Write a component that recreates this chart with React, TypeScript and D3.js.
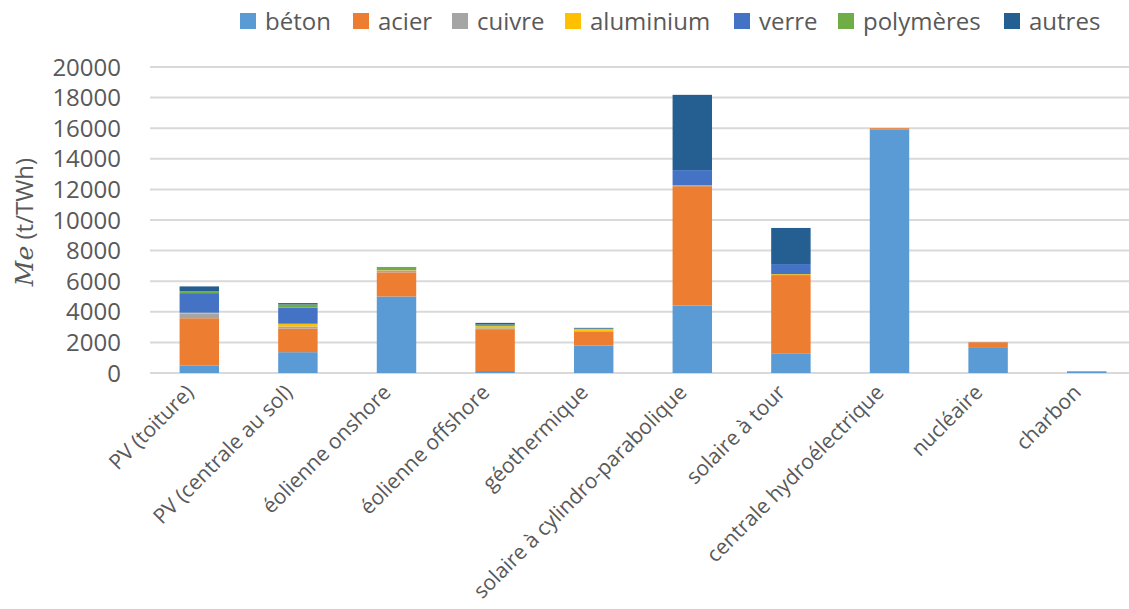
import * as d3 from "d3";
import { useEffect, useRef } from "react";

const categories = [
  "PV (toiture)",
  "PV (centrale au sol)",
  "éolienne onshore",
  "éolienne offshore",
  "géothermique",
  "solaire à cylindro-parabolique",
  "solaire à tour",
  "centrale hydroélectrique",
  "nucléaire",
  "charbon",
];

const materials = ["béton", "acier", "cuivre", "aluminium", "verre", "polymères", "autres"];

const beton = [480, 1360, 5000, 130, 1790, 4410, 1290, 15900, 1690, 100];
const acier = [3100, 1550, 1580, 2735, 920, 7800, 5110, 100, 320, 30];
const cuivre = [320, 130, 130, 60, 40, 30, 0, 0, 20, 0];
const aluminium = [40, 180, 20, 130, 110, 20, 60, 0, 0, 0];
const verre = [1280, 1060, 0, 0, 0, 1000, 660, 0, 0, 0];
const polymeres = [130, 200, 170, 110, 40, 0, 0, 0, 0, 0];
const autres = [310, 90, 30, 110, 50, 4920, 2360, 0, 0, 0];

const yTicks = [0, 2000, 4000, 6000, 8000, 10000, 12000, 14000, 16000, 18000, 20000];

const COLORS = ["#5B9BD5", "#ED7D31", "#A5A5A5", "#FFC000", "#4472C4", "#70AD47", "#255E91"];
// legend item x positions (layout only)
const LEGEND_X = [240, 353, 452, 565, 734, 838, 1004];

const TEXT_COLOR = "#595959";
const FONT = "'Open Sans', sans-serif";

const App = () => {
  const svgRef = useRef(null);

  useEffect(() => {
    const width = 1129;
    const height = 609;
    const svg = d3.select(svgRef.current).attr("width", width).attr("height", height);
    svg.selectAll("*").remove();

    const x = d3
      .scaleBand()
      .domain(categories)
      .range([150, 1136])
      .paddingInner(0.6)
      .paddingOuter(0.3);
    const y = d3.scaleLinear().domain([0, 20000]).range([373, 67]);

    // gridlines
    svg
      .append("g")
      .selectAll("line")
      .data(yTicks)
      .join("line")
      .attr("x1", 150)
      .attr("x2", 1129)
      .attr("y1", (d) => y(d))
      .attr("y2", (d) => y(d))
      .attr("stroke", "#D9D9D9")
      .attr("stroke-width", 2);

    // tick labels
    svg
      .append("g")
      .selectAll("text")
      .data(yTicks)
      .join("text")
      .attr("x", 121)
      .attr("y", (d) => y(d))
      .attr("dy", "0.36em")
      .attr("text-anchor", "end")
      .attr("font-family", FONT)
      .attr("font-size", 24)
      .attr("fill", TEXT_COLOR)
      .text((d) => String(d));

    // stacked bars
    const rows = categories.map((c, i) => ({
      cat: c,
      "béton": beton[i],
      acier: acier[i],
      cuivre: cuivre[i],
      aluminium: aluminium[i],
      verre: verre[i],
      "polymères": polymeres[i],
      autres: autres[i],
    }));
    const series = d3.stack<any>().keys(materials)(rows);

    svg
      .append("g")
      .selectAll("g")
      .data(series)
      .join("g")
      .attr("fill", (d, i) => COLORS[i])
      .selectAll("rect")
      .data((d) => d.filter((p) => p[1] - p[0] > 0))
      .join("rect")
      .attr("x", (d: any) => x(d.data.cat)!)
      .attr("width", x.bandwidth())
      .attr("y", (d) => y(d[1]))
      .attr("height", (d) => y(d[0]) - y(d[1]));

    // x labels
    svg
      .append("g")
      .selectAll("text")
      .data(categories)
      .join("text")
      .attr(
        "transform",
        (d) => `translate(${x(d)! + x.bandwidth() / 2 - 15},383) rotate(-45)`
      )
      .attr("dy", "0.72em")
      .attr("text-anchor", "end")
      .attr("font-family", FONT)
      .attr("font-size", 21)
      .attr("fill", TEXT_COLOR)
      .text((d) => d);

    // y axis title
    const title = svg
      .append("text")
      .attr("transform", "translate(33,222) rotate(-90)")
      .attr("text-anchor", "middle")
      .attr("fill", TEXT_COLOR)
      .attr("font-size", 24)
      .attr("font-family", FONT);
    title
      .append("tspan")
      .attr("font-family", "'DejaVu Serif', serif")
      .attr("font-style", "italic")
      .attr("font-size", 25)
      .text("Me");
    title.append("tspan").text(" (t/TWh)");

    // legend
    const legend = svg
      .append("g")
      .selectAll("g")
      .data(materials)
      .join("g")
      .attr("transform", (d, i) => `translate(${LEGEND_X[i]},13)`);
    legend
      .append("rect")
      .attr("width", 16)
      .attr("height", 16)
      .attr("fill", (d, i) => COLORS[i]);
    legend
      .append("text")
      .attr("x", 25)
      .attr("y", 8)
      .attr("dy", "0.36em")
      .attr("font-family", FONT)
      .attr("font-size", 24)
      .attr("fill", TEXT_COLOR)
      .text((d) => d);
  }, []);

  return (
    <div style={{ position: "absolute", left: 0, top: 0, background: "white" }}>
      <svg ref={svgRef} style={{ display: "block" }}></svg>
    </div>
  );
};

export default App;
